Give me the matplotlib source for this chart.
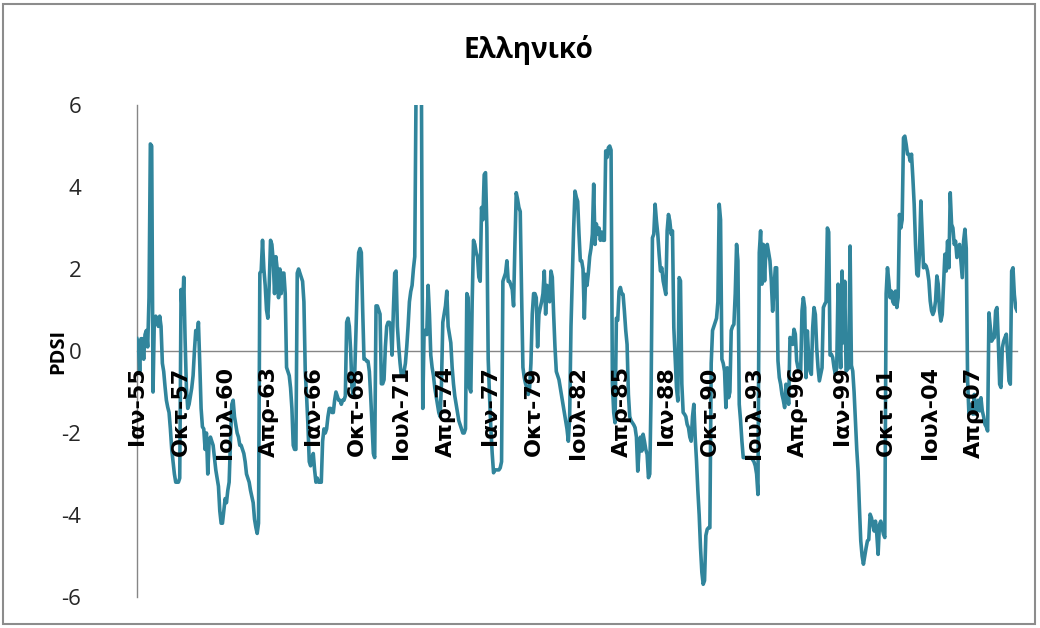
import numpy as np
import matplotlib
matplotlib.use("Agg")
import matplotlib.pyplot as plt
from matplotlib.patches import Rectangle

title = "Ελληνικό"
ylabel = "PDSI"

# Monthly PDSI values, January 1955 - December 2009 (12 values per row = one year)
pdsi_1955_1964 = [
    0.3, 0.2, -0.5, 0.3, 0.3, -0.2, 0.4, 0.5, 0.1, 1.3, 5.05, 5.0,
    -1.0, 0.8, 0.85, 0.8, 0.6, 0.85, 0.6, -0.3, -0.5, -0.87, -1.2, -1.37,
    -1.5, -1.9, -2.4, -2.7, -3.0, -3.2, -3.2, -3.2, -3.1, 1.5, 0.9, 1.8,
    0.3, -0.9, -1.4, -1.3, -1.1, -0.9, -0.6, 0.0, 0.5, 0.3, 0.7, -0.3,
    -1.4, -1.85, -1.9, -2.4, -2.0, -3.0, -2.2, -2.1, -2.2, -2.3, -2.6, -2.9,
    -3.1, -3.3, -3.9, -4.2, -4.2, -3.9, -3.6, -3.7, -3.4, -3.2, -2.2, -1.3,
    -1.2, -1.6, -1.8, -2.0, -2.1, -2.3, -2.3, -2.4, -2.5, -2.7, -3.0, -3.1,
    -3.2, -3.4, -3.55, -3.7, -4.1, -4.3, -4.45, -4.2, 1.9, 1.95, 2.7, 2.0,
    1.6, 1.0, 0.8, 1.6, 2.7, 2.6, 2.2, 1.4, 2.3, 2.0, 1.3, 2.0,
    1.4, 1.9, 1.9, 1.4, -0.4, -0.5, -0.6, -0.9, -1.4, -2.3, -2.4, -2.4,
]
pdsi_1965_1974 = [
    1.9, 2.0, 1.9, 1.8, 1.7, 1.2, -0.5, -1.1, -1.8, -2.7, -2.8, -2.6,
    -2.5, -2.9, -3.2, -3.1, -3.2, -3.2, -3.2, -2.2, -1.9, -2.0, -1.9, -1.6,
    -1.4, -1.4, -1.5, -1.5, -1.2, -1.0, -1.1, -1.2, -1.2, -1.3, -1.2, -1.2,
    -1.1, 0.7, 0.8, 0.6, 0.0, -0.9, -1.1, -0.6, 0.5, 1.7, 2.4, 2.5,
    2.4, 1.0, -0.2, -0.2, -0.25, -0.25, -0.5, -1.1, -1.8, -2.5, -2.6, 1.1,
    1.1, 1.0, 0.9, -0.8, -0.8, -0.7, 0.1, 0.6, 0.7, 0.7, 0.6, -0.1,
    1.0, 1.9, 1.95, 0.6, 0.1, -0.3, -0.6, -0.6, -0.5, -0.3, 0.1, 0.6,
    1.2, 1.45, 1.6, 2.0, 2.3, 6.5, 6.9, 7.0, 6.8, 6.4, -1.4, 0.5,
    0.5, 0.4, 1.6, 0.9, -0.1, -0.4, -0.6, -0.9, -1.1, -1.3, -1.5, -1.6,
    -0.8, 0.7, 0.9, 1.1, 1.46, 0.6, 0.4, 0.2, -0.4, -0.8, -1.1, -1.3,
]
pdsi_1975_1984 = [
    -1.5, -1.7, -1.8, -1.9, -2.0, -2.0, -1.9, 1.4, 1.3, -0.9, -1.0, 1.2,
    2.7, 2.6, 2.4, 2.3, 1.8, 1.7, 3.5, 3.2, 4.3, 4.35, 3.0, -0.2,
    -1.1, -1.9, -2.5, -2.97, -2.9, -2.9, -2.9, -2.9, -2.85, -2.7, 1.7, 1.8,
    1.9, 2.2, 1.7, 1.7, 1.6, 1.5, 1.1, 2.6, 3.86, 3.7, 3.5, 3.4,
    1.4, -0.4, -0.65, -0.8, -0.9, -1.06, -0.9, -0.3, 0.9, 1.4, 1.4, 1.3,
    0.1, 0.9, 1.06, 1.2, 1.4, 1.95, 0.9, 1.6, 1.3, 1.2, 1.95, 1.8,
    0.9, 0.1, -0.5, -0.6, -0.7, -0.9, -1.1, -1.3, -1.5, -1.7, -1.9, -2.2,
    -1.6, 0.6, 1.8, 3.0, 3.9, 3.75, 3.65, 2.85, 2.2, 2.2, 2.0, 0.8,
    1.87, 1.6, 1.9, 2.3, 2.5, 2.85, 4.07, 2.6, 3.1, 2.85, 3.0, 2.7,
    2.9, 2.7, 2.7, 4.88, 4.72, 4.96, 5.0, 4.9, -0.8, -1.5, -1.75, 0.8,
]
pdsi_1985_1994 = [
    0.75, 1.46, 1.55, 1.4, 1.38, 0.97, 0.5, 0.16, -1.06, -1.6, -1.7, -1.75,
    -1.8, -1.87, -2.1, -2.93, -2.4, -2.1, -2.44, -2.03, -2.2, -2.4, -2.52, -3.09,
    -3.0, -1.0, 2.76, 2.85, 3.58, 3.17, 2.85, 2.36, 1.95, 2.03, 1.71, 1.55,
    1.38, 2.93, 3.33, 3.17, 2.85, 2.93, 0.57, -0.16, -0.89, -1.22, 1.79, 1.71,
    -0.8, -1.5, -1.54, -1.6, -1.79, -1.87, -2.1, -2.2, -1.6, -1.3, -2.1, -2.68,
    -3.4, -4.0, -4.8, -5.4, -5.69, -5.6, -4.5, -4.35, -4.31, -4.31, -0.3, 0.5,
    0.6, 0.7, 0.8, 1.2, 3.58, 3.2, -0.2, -0.3, -0.49, -1.38, -0.41, -1.14,
    -1.0, 0.5, 0.6, 0.65, 1.4, 2.6, 2.2, -1.3, -1.7, -2.2, -2.6, -2.6,
    -2.6, -2.6, -2.6, -2.6, -2.6, -2.65, -2.7, -2.8, -3.0, -3.5, 2.4, 2.93,
    1.63, 2.6, 1.71, 2.52, 2.6, 2.4, 2.2, 1.71, 0.97, 1.5, 2.03, 2.03,
]
pdsi_1995_2004 = [
    -0.24, -0.65, -0.81, -1.06, -1.2, -1.38, -0.81, -0.89, -1.3, 0.33, 0.28, 0.16,
    0.53, 0.41, -0.24, -0.41, -0.45, -0.49, 0.98, 1.3, 1.06, -0.65, 0.49, -0.16,
    -0.49, -0.57, 0.57, 1.06, 0.89, 0.08, -0.41, -0.73, -0.57, -0.41, 1.06, 1.14,
    1.2, 3.0, 2.9, -0.1, -0.08, -0.16, -0.41, -0.57, -0.41, 1.63, 0.41, -0.41,
    1.95, 0.2, 1.7, -0.49, -0.45, -0.41, 2.56, -0.35, -0.49, -1.0, -1.7, -2.4,
    -2.93, -3.82, -4.63, -5.0, -5.2, -5.0, -4.8, -4.63, -4.6, -3.98, -4.07, -4.23,
    -4.39, -4.15, -4.47, -4.96, -4.23, -4.15, -4.31, -4.47, -4.55, 1.4, 2.03, 1.71,
    1.3, 1.46, 1.2, 1.14, 1.46, 1.06, 1.3, 3.33, 3.0, 3.2, 5.2, 5.24,
    5.04, 4.8, 4.8, 4.63, 4.8, 4.23, 3.58, 2.6, 1.87, 1.83, 2.4, 3.66,
    2.85, 2.03, 2.11, 2.07, 1.95, 1.71, 1.22, 0.98, 0.89, 0.98, 1.22, 1.83,
]
pdsi_2005_2009 = [
    1.63, 0.98, 0.73, 0.89, 1.63, 2.36, 1.95, 2.68, 2.03, 3.86, 3.09, 3.0,
    2.6, 2.68, 2.28, 2.44, 2.6, 2.2, 1.79, 2.68, 2.97, 2.5, -0.7, -1.54,
    -1.3, -1.4, -1.54, -1.06, -1.54, -1.3, -1.2, -1.46, -1.14, -1.46, -1.6, -1.79,
    -1.85, -1.95, 0.93, 0.57, 0.24, 0.3, 0.33, 0.98, 1.06, 0.24, -0.81, -0.89,
    0.08, 0.24, 0.33, 0.41, -0.08, -0.73, -0.81, 1.95, 2.03, 1.38, 1.06, 0.98,
]

# Category labels, one every 33 months
tick_labels = ["Ιαν-55", "Οκτ-57", "Ιουλ-60", "Απρ-63", "Ιαν-66", "Οκτ-68",
               "Ιουλ-71", "Απρ-74", "Ιαν-77", "Οκτ-79", "Ιουλ-82", "Απρ-85",
               "Ιαν-88", "Οκτ-90", "Ιουλ-93", "Απρ-96", "Ιαν-99", "Οκτ-01",
               "Ιουλ-04", "Απρ-07"]
tick_step = 33
y_ticks = [-6, -4, -2, 0, 2, 4, 6]

pdsi = np.concatenate([pdsi_1955_1964, pdsi_1965_1974, pdsi_1975_1984,
                       pdsi_1985_1994, pdsi_1995_2004, pdsi_2005_2009])
months = np.arange(len(pdsi))

W, H = 1040, 628
fig = plt.figure(figsize=(W / 100, H / 100), dpi=100)
fig.patch.set_facecolor("white")

ax = fig.add_axes([137 / W, 31 / H, 880 / W, 492 / H])
ax.plot(months, pdsi, color="#31859C", lw=2.6, solid_joinstyle="round",
        zorder=2)
# category labels sit on top of the series
ax.set_axisbelow(False)

ax.set_xlim(0, len(pdsi) - 1)
ax.set_ylim(-6, 6)

axis_grey = "#868686"
for side in ("top", "right"):
    ax.spines[side].set_visible(False)
ax.spines["left"].set_color(axis_grey)
ax.spines["left"].set_linewidth(1.0)
ax.spines["bottom"].set_position(("data", 0))
ax.spines["bottom"].set_color(axis_grey)
ax.spines["bottom"].set_linewidth(1.0)
ax.spines["bottom"].set_zorder(1)
ax.spines["left"].set_zorder(1)

ax.set_yticks(y_ticks)
ax.set_yticklabels([str(v) for v in y_ticks], fontfamily="Open Sans",
                   fontsize=16, color="#262626")
ax.tick_params(axis="y", length=0, pad=40)

ax.set_xticks(np.arange(0, len(pdsi), tick_step)[:len(tick_labels)])
ax.set_xticklabels(tick_labels, rotation=90, fontfamily="DejaVu Sans",
                   fontweight="bold", fontsize=16, color="black")
ax.tick_params(axis="x", length=0, pad=11)

fig.text(58 / W, 1 - 351 / H, ylabel, rotation=90, ha="center", va="center",
         fontfamily="Open Sans", fontweight="bold", fontsize=14.5, color="black")
fig.text(528 / W, 1 - 50 / H, title, ha="center", va="center",
         fontfamily="Open Sans", fontweight="bold", fontsize=20, color="black")

fig.patches.append(Rectangle((3 / W, 4 / H), 1032 / W, 620 / H,
                             transform=fig.transFigure, fill=False,
                             edgecolor="#8c8c8c", lw=1.5))

fig.savefig("out.png", dpi=100)
